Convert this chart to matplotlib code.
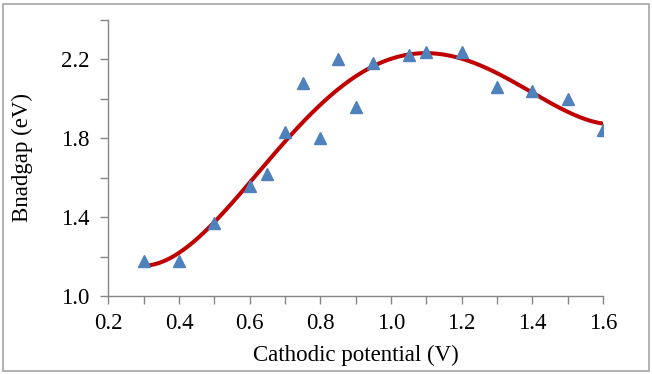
import numpy as np
import matplotlib.pyplot as plt
from matplotlib.ticker import MultipleLocator
from matplotlib.patches import Rectangle

# measured band gap vs cathodic potential
potential = [0.3, 0.4, 0.5, 0.6, 0.65, 0.7, 0.75, 0.8, 0.85, 0.9, 0.95,
             1.05, 1.1, 1.2, 1.3, 1.4, 1.5, 1.6]
bandgap = [1.18, 1.18, 1.37, 1.56, 1.62, 1.83, 2.08, 1.80, 2.20, 1.96, 2.18,
           2.22, 2.24, 2.24, 2.06, 2.04, 2.00, 1.84]
x_ticks = [0.2, 0.4, 0.6, 0.8, 1.0, 1.2, 1.4, 1.6]
y_ticks = [1.0, 1.4, 1.8, 2.2]

plt.rcParams['font.family'] = ['Liberation Serif', 'DejaVu Serif']

fig = plt.figure(figsize=(6.52, 3.74), dpi=100)
ax = fig.add_axes([0.1664, 0.2086, 0.9248 - 0.1664, 0.9465 - 0.2086])

# polynomial trendline (order 4), like the spreadsheet one
coef = np.polyfit(potential, bandgap, 4)
xs = np.linspace(min(potential), max(potential), 300)
ax.plot(xs, np.polyval(coef, xs), color='#c00000', lw=2.9, zorder=2,
        solid_capstyle='butt')
ax.plot(potential, bandgap, linestyle='none', marker='^', ms=8.5,
        color='#4f81bd', zorder=3)

ax.set_xlim(0.2, 1.6)
ax.set_ylim(1.0, 2.4)
ax.set_xticks(x_ticks)
ax.set_xticklabels([f'{v:.1f}' for v in x_ticks])
ax.xaxis.set_minor_locator(MultipleLocator(0.1))
ax.set_yticks(y_ticks)
ax.set_yticklabels([f'{v:.1f}' for v in y_ticks])
ax.yaxis.set_minor_locator(MultipleLocator(0.2))

for side in ['top', 'right']:
    ax.spines[side].set_visible(False)
for side in ['left', 'bottom']:
    ax.spines[side].set_color('#868686')
    ax.spines[side].set_linewidth(1.0)

ax.tick_params(which='both', direction='out', length=6, width=1.0,
               color='#868686', labelsize=16.5, labelcolor='black')
ax.tick_params(axis='x', pad=6)
ax.tick_params(axis='y', pad=8)

ax.set_xlabel('Cathodic potential (V)', fontsize=16.5, labelpad=8)
ax.set_ylabel('Bnadgap (eV)', fontsize=16.5, labelpad=20)

fig.patches.append(Rectangle((2.5 / 652, 3 / 374), 646 / 652, 367.5 / 374,
                             transform=fig.transFigure, fill=False,
                             edgecolor='#a6a6a6', lw=1.2))

fig.savefig('out.png', dpi=100)
